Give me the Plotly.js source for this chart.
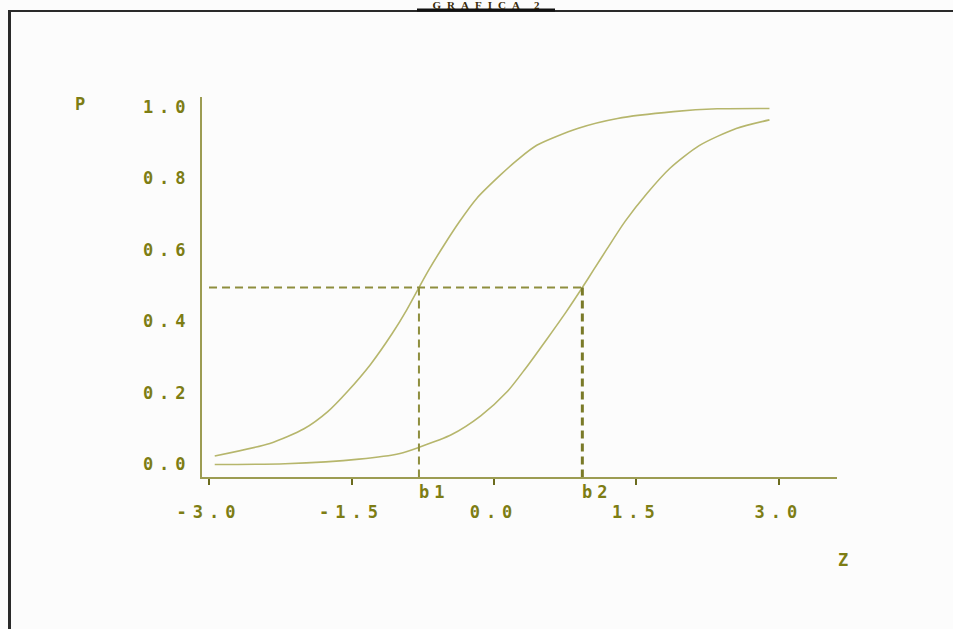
<!DOCTYPE html>
<html>
<head>
<meta charset="utf-8">
<script src="https://cdn.plot.ly/plotly-3.0.1.min.js"></script>
<style>
  html, body { margin: 0; padding: 0; background: #fcfcfc; }
  #chart { width: 953px; height: 629px; }
  .xtick text, .ytick text { letter-spacing: 6px; }
  .annotation-text { letter-spacing: 5px; }
  .gtitle { letter-spacing: 6px; }
</style>
</head>
<body>
<div id="chart"></div>
<script>
// ---- data ----
const zCurve1 = [-2.94, -2.36, -2.00, -1.75, -1.54, -1.30, -1.07, -0.92, -0.79, -0.68, -0.53, -0.37, -0.18, 0.06, 0.25, 0.45, 0.88, 1.30, 1.89, 2.35, 2.90];
const pCurve1 = [0.024, 0.059, 0.100, 0.148, 0.205, 0.280, 0.367, 0.432, 0.495, 0.547, 0.612, 0.677, 0.745, 0.808, 0.853, 0.893, 0.940, 0.968, 0.987, 0.995, 0.996];
const zCurve2 = [-2.94, -2.20, -1.42, -0.99, -0.79, -0.45, -0.14, 0.14, 0.33, 0.56, 0.76, 0.93, 1.05, 1.19, 1.38, 1.61, 1.85, 2.16, 2.55, 2.90];
const pCurve2 = [0.000, 0.002, 0.015, 0.031, 0.048, 0.083, 0.136, 0.204, 0.268, 0.352, 0.427, 0.495, 0.545, 0.603, 0.680, 0.758, 0.828, 0.892, 0.940, 0.964];
const bValues = [-0.79, 0.93];
const bLabels = ['b1', 'b2'];
const pHalf = 0.495;
const zStart = -3.0;
const xTickVals = [-3.0, -1.5, 0.0, 1.5, 3.0];
const xTickText = ['-3.0', '-1.5', '0.0', '1.5', '3.0'];
const yTickVals = [0.0, 0.2, 0.4, 0.6, 0.8, 1.0];
const yTickText = ['0.0', '0.2', '0.4', '0.6', '0.8', '1.0'];
const titleText = 'GRAFICA 2';
const yLabel = 'P';
const xLabel = 'Z';

// ---- layout constants (pixels) ----
const W = 953, H = 629;
const PL = 202, PR = 837, PT = 97, PB = 477;
const px = v => (v - PL) / (PR - PL);
const py = v => (PB - v) / (PB - PT);
const xRange = [-3.074, 3.611];
const yRange = [-0.035, 1.028];

const olive = '#7d7d14';
const axisCol = '#9c9c52';
const curveCol = '#b6b66c';
const dashCol = '#8e8e3e';
const monoFont = { family: 'DejaVu Sans Mono', size: 17, color: olive, weight: 'bold' };

const traces = [
  { x: zCurve1, y: pCurve1, mode: 'lines', line: { color: curveCol, width: 1.6, shape: 'spline', smoothing: 0.7 }, hoverinfo: 'skip', showlegend: false },
  { x: zCurve2, y: pCurve2, mode: 'lines', line: { color: curveCol, width: 1.6, shape: 'spline', smoothing: 0.7 }, hoverinfo: 'skip', showlegend: false },
  { x: [zStart, bValues[1]], y: [pHalf, pHalf], mode: 'lines', line: { color: dashCol, width: 2, dash: '8px,5px' }, hoverinfo: 'skip', showlegend: false },
  { x: [bValues[0], bValues[0]], y: [pHalf, yRange[0]], mode: 'lines', line: { color: dashCol, width: 2, dash: '8px,5px' }, hoverinfo: 'skip', showlegend: false },
  { x: [bValues[1], bValues[1]], y: [pHalf, yRange[0]], mode: 'lines', line: { color: '#7a7a28', width: 3, dash: '8px,5px' }, hoverinfo: 'skip', showlegend: false }
];

const annotations = [
  { xref: 'paper', yref: 'paper', x: px(82), y: py(104), text: yLabel, showarrow: false, font: monoFont, xanchor: 'center', yanchor: 'middle' },
  { xref: 'paper', yref: 'paper', x: px(845), y: py(560), text: xLabel, showarrow: false, font: monoFont, xanchor: 'center', yanchor: 'middle' }
];
bValues.forEach((b, i) => {
  annotations.push({ xref: 'x', yref: 'paper', x: b, y: py(492), text: bLabels[i], showarrow: false, font: monoFont, xanchor: 'left', yanchor: 'middle', xshift: -2 });
});

const shapes = [
  // outer frame (top and left)
  { type: 'line', xref: 'paper', yref: 'paper', x0: px(8), x1: px(953), y0: py(11), y1: py(11), line: { color: '#2a2a2a', width: 2 } },
  { type: 'line', xref: 'paper', yref: 'paper', x0: px(9.5), x1: px(9.5), y0: py(11), y1: py(629), line: { color: '#2a2a2a', width: 3 } },
  // title underline
  { type: 'line', xref: 'paper', yref: 'paper', x0: px(417), x1: px(555), y0: py(10), y1: py(10), line: { color: '#111', width: 3 } }
];

const layout = {
  width: W, height: H,
  margin: { l: PL, r: W - PR, t: PT, b: H - PB, pad: 0 },
  paper_bgcolor: '#fcfcfc',
  plot_bgcolor: '#fcfcfc',
  title: { text: '<b>' + titleText + '</b>', x: 489 / W, xanchor: 'center', y: 1 - 5.5 / H, yanchor: 'middle', yref: 'container',
           font: { family: 'Liberation Serif', size: 11, color: '#3a2a08' } },
  xaxis: {
    range: xRange, showgrid: false, zeroline: false, showline: true, linecolor: axisCol, linewidth: 2,
    tickmode: 'array', tickvals: xTickVals, ticktext: xTickText, ticks: 'outside', ticklen: 6, tickwidth: 2, tickcolor: '#6b6b1e',
    tickfont: monoFont, ticklabelstandoff: 13, fixedrange: true
  },
  yaxis: {
    range: yRange, showgrid: false, zeroline: false, showline: true, linecolor: axisCol, linewidth: 2,
    tickmode: 'array', tickvals: yTickVals, ticktext: yTickText, ticks: '',
    tickfont: monoFont, ticklabelstandoff: 5, fixedrange: true
  },
  annotations: annotations,
  shapes: shapes,
  showlegend: false
};

Plotly.newPlot('chart', traces, layout, { displayModeBar: false, staticPlot: true });
</script>
</body>
</html>
